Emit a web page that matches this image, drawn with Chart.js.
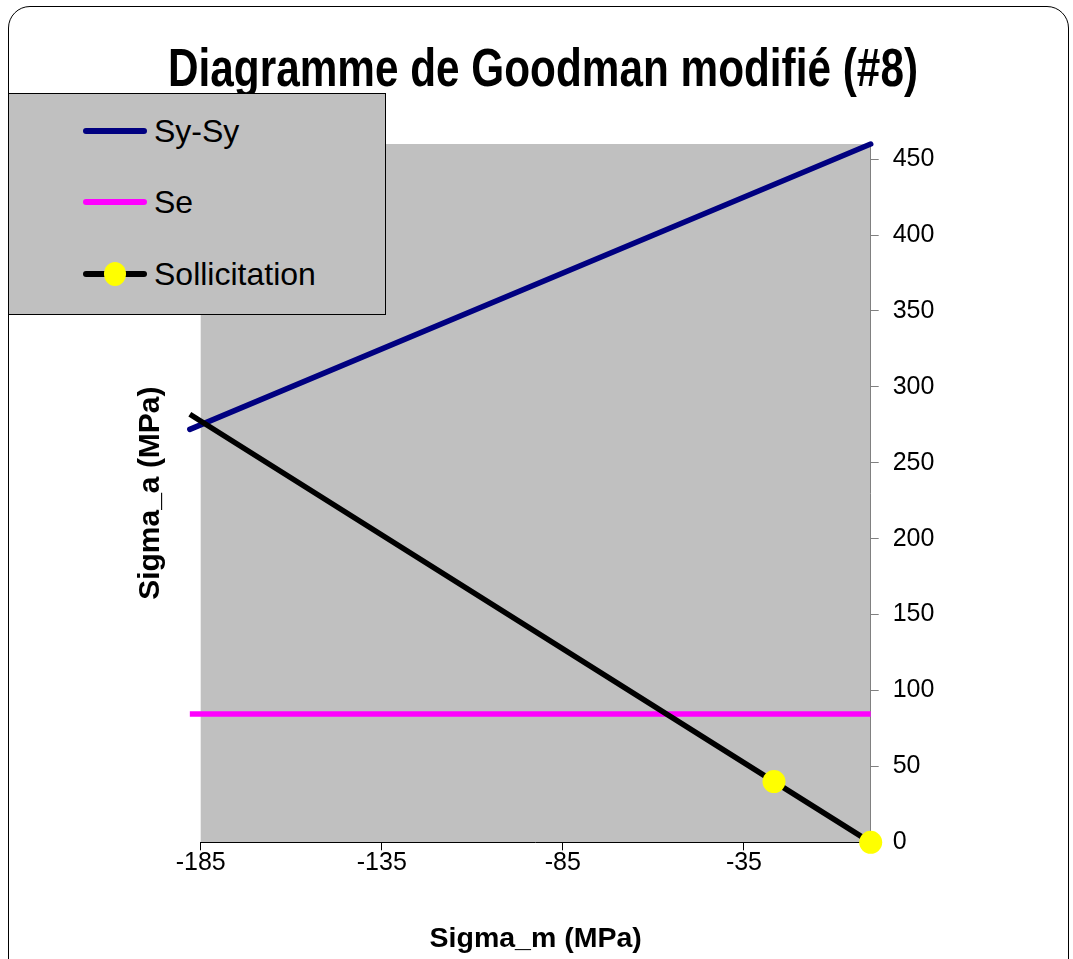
<!DOCTYPE html>
<html>
<head>
<meta charset="utf-8">
<title>Diagramme de Goodman modifié (#8)</title>
<script src="https://cdn.jsdelivr.net/npm/chart.js@4.4.1/dist/chart.umd.min.js"></script>
<style>
  html, body { margin: 0; padding: 0; background: #fff; }
  #wrap { position: relative; width: 1073px; height: 959px; overflow: hidden; }
  #frame { position: absolute; left: 8px; top: 6px; width: 1061px; height: 975px;
           border: 1px solid #000; border-radius: 22px; box-sizing: border-box; }
  #chart { position: absolute; left: 0; top: 0; }
  #legend { position: absolute; left: 8px; top: 93px; width: 378px; height: 222px;
            background: #c0c0c0; border: 1px solid #000; box-sizing: border-box;
            font-family: 'Liberation Sans', Arial, sans-serif; font-size: 32px; color: #000; }
  .item { position: absolute; left: 74px; height: 40px; display: flex; align-items: center; white-space: nowrap; }
  .swatch { position: relative; width: 64px; height: 6px; border-radius: 3px; margin-right: 7px; }
  .dot { position: absolute; left: 21px; top: -9px; width: 22px; height: 24px; border-radius: 50%; }
</style>
</head>
<body>
<div id="wrap">
  <div id="frame"></div>
  <canvas id="chart" width="1073" height="959"></canvas>
  <div id="legend"></div>
</div>
<script>
// Sigma_m / Sigma_a values (MPa) for each series
const sySyM = [-188, 0];
const sySyA = [272, 460];
const seM = [-188, 0];
const seA = [84.5, 84.5];
const sollM = [-188, -26.7, 0];
const sollA = [282, 40, 0];

// Axis tick values
const xTicks = [-185, -135, -85, -35];
const yTicks = [0, 50, 100, 150, 200, 250, 300, 350, 400, 450];

const TITLE = 'Diagramme de Goodman modifié (#8)';
const FONT = "'Liberation Sans', Arial, sans-serif";
const pairs = (xs, ys) => xs.map((x, i) => ({ x: x, y: ys[i] }));

// Grey plot-area background
const plotBackground = {
  id: 'plotBackground',
  beforeDraw(chart) {
    const { ctx, chartArea: a } = chart;
    ctx.save();
    ctx.fillStyle = '#c0c0c0';
    ctx.fillRect(a.left, a.top, a.right - a.left, a.bottom - a.top);
    ctx.restore();
  }
};

// Narrow, tall bold chart title
const narrowTitle = {
  id: 'narrowTitle',
  afterDraw(chart, args, opts) {
    const ctx = chart.ctx;
    ctx.save();
    ctx.font = 'bold ' + opts.size + 'px ' + FONT;
    ctx.fillStyle = '#000';
    ctx.textAlign = 'center';
    ctx.textBaseline = 'alphabetic';
    ctx.fillText(opts.text, opts.x, opts.y, opts.maxWidth);
    ctx.restore();
  }
};

const chart = new Chart(document.getElementById('chart'), {
  type: 'scatter',
  data: {
    datasets: [
      { label: 'Sy-Sy', data: pairs(sySyM, sySyA), showLine: true, borderColor: '#000080',
        borderWidth: 5.5, pointRadius: 0, clip: false, order: 2, borderCapStyle: 'round' },
      { label: 'Se', data: pairs(seM, seA), showLine: true, borderColor: '#ff00ff',
        borderWidth: 5.5, pointRadius: 0, clip: false, order: 1 },
      { label: 'Sollicitation', data: pairs(sollM, sollA), showLine: true, borderColor: '#000000',
        borderWidth: 5.5, pointRadius: [0, 11.5, 11.5], pointBackgroundColor: '#ffff00',
        pointBorderWidth: 0, pointBorderColor: '#ffff00', clip: false, order: 0 }
    ]
  },
  options: {
    responsive: false,
    animation: false,
    layout: { padding: { left: 115.3, right: 102.3, top: 144, bottom: 0 } },
    plugins: {
      legend: { display: false },
      tooltip: { enabled: false },
      title: { display: false },
      narrowTitle: { text: TITLE, size: 54, x: 543, y: 86, maxWidth: 750 }
    },
    scales: {
      x: {
        type: 'linear', position: 'bottom', min: -185, max: 0,
        afterBuildTicks: s => { s.ticks = xTicks.map(v => ({ value: v })); },
        afterFit: s => { s.height = 116.7; },
        grid: { display: true, drawOnChartArea: false, drawTicks: true, tickLength: 8, color: '#000', lineWidth: 1 },
        border: { display: true, color: '#000', width: 1 },
        ticks: { color: '#000', font: { family: FONT, size: 25 }, padding: -2, maxRotation: 0, autoSkip: false },
        title: { display: true, text: 'Sigma_m (MPa)', color: '#000',
                 font: { family: FONT, size: 28.5, weight: 'bold' }, padding: { top: 0, bottom: 3 } }
      },
      y: {
        type: 'linear', position: 'right', min: 0, max: 460,
        afterBuildTicks: s => { s.ticks = yTicks.map(v => ({ value: v })); },
        afterFit: s => { s.width = 100; },
        grid: { display: true, drawOnChartArea: false, drawTicks: true, tickLength: 8, color: '#808080', lineWidth: 1 },
        border: { display: true, color: '#808080', width: 1 },
        ticks: { color: '#000', font: { family: FONT, size: 25 }, padding: 14, autoSkip: false }
      },
      yTitle: {
        type: 'linear', position: 'left', min: 0, max: 460,
        afterFit: s => { s.width = 85.4; },
        grid: { display: false, drawTicks: false },
        border: { display: false },
        ticks: { display: false },
        title: { display: true, text: 'Sigma_a (MPa)', color: '#000',
                 font: { family: FONT, size: 30, weight: 'bold' }, padding: { top: 17, bottom: 0 } }
      }
    }
  },
  plugins: [plotBackground, narrowTitle]
});

// Legend built from the chart's datasets
const legendTops = [17, 88, 160];
const legend = document.getElementById('legend');
chart.data.datasets.forEach((ds, i) => {
  const item = document.createElement('div');
  item.className = 'item';
  item.style.top = legendTops[i] + 'px';
  const sw = document.createElement('span');
  sw.className = 'swatch';
  sw.style.background = ds.borderColor;
  if (ds.pointBackgroundColor) {
    const dot = document.createElement('span');
    dot.className = 'dot';
    dot.style.background = ds.pointBackgroundColor;
    sw.appendChild(dot);
  }
  const txt = document.createElement('span');
  txt.textContent = ds.label;
  item.appendChild(sw);
  item.appendChild(txt);
  legend.appendChild(item);
});
</script>
</body>
</html>
